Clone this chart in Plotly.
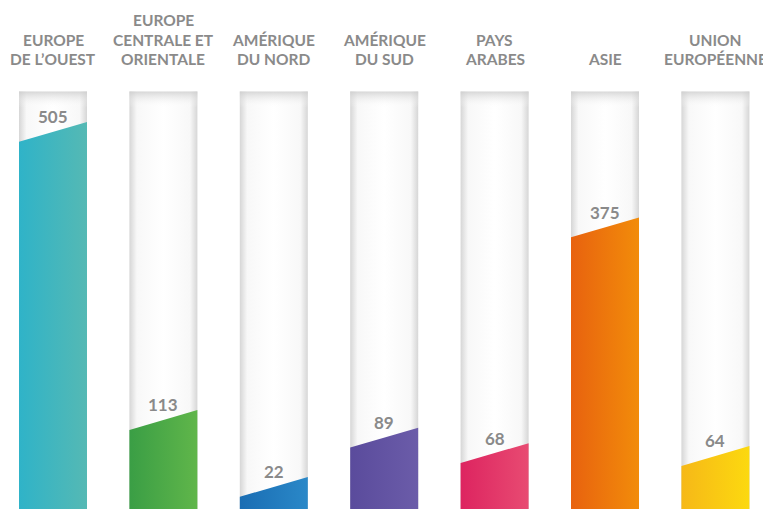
import plotly.graph_objects as go

regions = ["EUROPE<br>DE L’OUEST", "EUROPE<br>CENTRALE ET<br>ORIENTALE", "AMÉRIQUE<br>DU NORD",
           "AMÉRIQUE<br>DU SUD", "PAYS<br>ARABES", "ASIE", "UNION<br>EUROPÉENNE"]
values = [505, 113, 22, 89, 68, 375, 64]
colors_left = ["#2fb3c8", "#3a9e45", "#1a6db3", "#5a4b9c", "#dd2460", "#e8620f", "#f6b818"]
colors_right = ["#55b9b4", "#60b64a", "#2a88c8", "#6b5ca9", "#e84b72", "#f28c0a", "#fcd90f"]

COL_TOP = 560      # height of the white background columns (value units)
SLANT = 13.5       # half of the slant of each bar top (value units)
HALF_W = 0.308     # half width of a column (category units)
LABEL_BASE = 604   # centre of the last line of each category label (value units)
LINE_STEP = 26.5   # spacing between label lines (value units)
GRAY = "#8a8a8a"

fig = go.Figure()

for i, v in enumerate(values):
    x0, x1 = i - HALF_W, i + HALF_W
    # white background column with shaded edges
    fig.add_trace(go.Scatter(
        x=[x0, x0, x1, x1, x0], y=[-40, COL_TOP, COL_TOP, -40, -40],
        mode="none", fill="toself", hoverinfo="skip", showlegend=False,
        fillgradient=dict(type="horizontal",
                          colorscale=[[0, "#d6d6d6"], [0.11, "#f8f8f8"], [0.5, "#ffffff"],
                                      [0.89, "#f8f8f8"], [1, "#d6d6d6"]])))
    # top shadow
    fig.add_trace(go.Scatter(
        x=[x0, x0, x1, x1, x0], y=[COL_TOP - 22, COL_TOP, COL_TOP, COL_TOP - 22, COL_TOP - 22],
        mode="none", fill="toself", hoverinfo="skip", showlegend=False,
        fillgradient=dict(type="vertical",
                          colorscale=[[0, "rgba(255,255,255,0)"], [1, "rgba(205,205,205,0.8)"]])))
    # coloured bar with slanted top
    fig.add_trace(go.Scatter(
        x=[x0, x0, x1, x1, x0], y=[-40, v - SLANT, v + SLANT, -40, -40],
        mode="none", fill="toself", hoverinfo="skip", showlegend=False,
        fillgradient=dict(type="horizontal",
                          colorscale=[[0, colors_left[i]], [1, colors_right[i]]])))
    # value label
    fig.add_annotation(x=i, y=v, text=f"<b>{v}</b>", showarrow=False, yshift=15,
                       font=dict(family="Lato", size=17, color=GRAY))
    # category label, one annotation per line
    lines = regions[i].split("<br>")
    n = len(lines)
    for k, line in enumerate(lines):
        fig.add_annotation(x=i, y=LABEL_BASE + (n - 1 - k) * LINE_STEP, text=f"<b>{line}</b>",
                           showarrow=False, yanchor="middle", align="center",
                           font=dict(family="Lato", size=15.5, color=GRAY))

fig.update_layout(
    width=771, height=509,
    margin=dict(l=0, r=0, t=0, b=0),
    paper_bgcolor="white", plot_bgcolor="white",
    xaxis=dict(range=[-0.4076, 6.576], visible=False, fixedrange=True),
    yaxis=dict(range=[-19, 673.5], visible=False, fixedrange=True),
    showlegend=False,
)

fig.write_html("out.html")
